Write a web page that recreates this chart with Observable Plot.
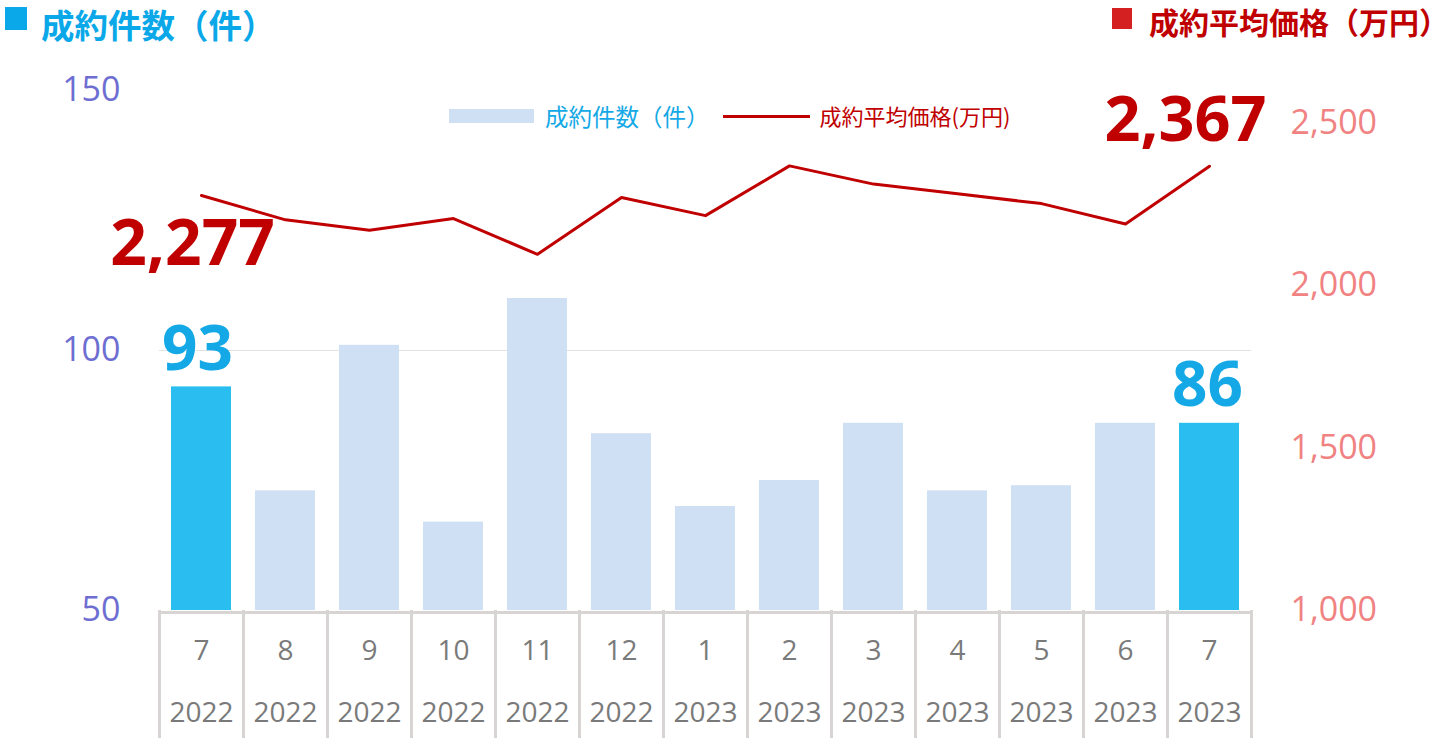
<!DOCTYPE html>
<html>
<head>
<meta charset="utf-8">
<script src="https://cdn.jsdelivr.net/npm/d3@7"></script>
<script src="https://cdn.jsdelivr.net/npm/@observablehq/plot@0.6"></script>
<style>
  html, body { margin: 0; padding: 0; background: #fff; }
  #wrap { position: relative; width: 1440px; height: 738px; overflow: hidden; font-family: "Open Sans", "Noto Sans CJK JP", sans-serif; }
  #header { position: relative; height: 40px; }
  .ttl { position: absolute; top: 0; line-height: 1.45; font-family: "Noto Sans CJK JP", sans-serif; font-weight: 700; white-space: nowrap; }
  .sq { position: absolute; }
  .half { font-feature-settings: "halt" 1; }
  #legend { position: absolute; top: 100px; left: 449px; height: 32px; line-height: 1.45; display: flex; align-items: center; font-family: "Noto Sans CJK JP", sans-serif; font-size: 22px; white-space: nowrap; }
</style>
</head>
<body>
<div id="wrap">
  <div id="header">
    <div class="sq" style="left:5px;top:7px;width:22px;height:23px;background:#0aa8e8;"></div>
    <div class="ttl" style="left:41px;color:#0aa8e8;font-size:33.5px;">成約件数（件）</div>
    <div class="sq" style="left:1112px;top:8px;width:20px;height:21px;background:#d42020;"></div>
    <div class="ttl" style="left:1149px;color:#c00000;font-size:30px;">成約平均価格（万円<span class="half">）</span></div>
  </div>
  <div id="chart"></div>
  <div id="legend">
    <span style="display:inline-block;width:85px;height:14px;background:#cfe0f4;margin-right:11px;"></span>
    <span style="color:#14a9e6;font-size:23.5px;">成約件数（件）</span>
    <span style="display:inline-block;width:87px;height:3px;background:#c00000;margin-left:13px;margin-right:10px;"></span>
    <span style="color:#c00000;font-size:22px;">成約平均価格(万円)</span>
  </div>
</div>
<script>
const months = [7, 8, 9, 10, 11, 12, 1, 2, 3, 4, 5, 6, 7];
const years = [2022, 2022, 2022, 2022, 2022, 2022, 2023, 2023, 2023, 2023, 2023, 2023, 2023];
const counts = [93, 73, 101, 67, 110, 84, 70, 75, 86, 73, 74, 86, 86];
const prices = [2277, 2202, 2170, 2206, 2096, 2271, 2215, 2368, 2312, 2282, 2252, 2189, 2367];
const leftTicks = [50, 100, 150];
const rightTicks = [1000, 1500, 2000, 2500];
const highlighted = [0, 12];

const leftDomain = [50, 150];
const rightDomain = [1000, 2600];
const toLeft = p => leftDomain[0] + (p - rightDomain[0]) / (rightDomain[1] - rightDomain[0]) * (leftDomain[1] - leftDomain[0]);
const fromLeft = v => rightDomain[0] + (v - leftDomain[0]) / (leftDomain[1] - leftDomain[0]) * (rightDomain[1] - rightDomain[0]);

const data = months.map((m, i) => ({
  key: `${years[i]}-${String(m).padStart(2, "0")}-${i}`,
  month: String(m),
  year: String(years[i]),
  count: counts[i],
  price: prices[i],
  pv: toLeft(prices[i]),
  hi: highlighted.includes(i)
}));
const first = [data[0]];
const last = [data[data.length - 1]];
const fmt = d3.format(",");
const gridColor = "#d8d4d4";
const step = 84;

const chart = Plot.plot({
  width: 1440,
  height: 698,
  marginTop: 50,
  marginBottom: 128,
  marginLeft: 159,
  marginRight: 189,
  style: { fontFamily: "'Open Sans', 'Noto Sans CJK JP', sans-serif", background: "#fff", overflow: "visible" },
  x: { type: "band", domain: data.map(d => d.key), paddingInner: 0.2857, paddingOuter: 0.14285, axis: null },
  y: { domain: leftDomain },
  color: { type: "identity" },
  marks: [
    Plot.ruleY([100], { stroke: "#e2e2e2", strokeWidth: 1.2 }),
    Plot.barY(data, { x: "key", y1: leftDomain[0], y2: "count", fill: d => d.hi ? "#29bdf0" : "#cfe0f4" }),
    Plot.ruleY([leftDomain[0]], { stroke: gridColor, strokeWidth: 3, dy: 2 }),
    Plot.ruleX(data, { x: "key", y1: leftDomain[0], y2: 24, dx: -step / 2, stroke: gridColor, strokeWidth: 3 }),
    Plot.ruleX(last, { x: "key", y1: leftDomain[0], y2: 24, dx: step / 2, stroke: gridColor, strokeWidth: 3 }),
    Plot.text(data, { x: "key", text: "month", frameAnchor: "bottom", lineAnchor: "middle", dy: 41, fontSize: 28, fill: "#7a7a7a" }),
    Plot.text(data, { x: "key", text: "year", frameAnchor: "bottom", lineAnchor: "middle", dy: 103, fontSize: 28, fill: "#7a7a7a" }),
    Plot.lineY(data, { x: "key", y: "pv", stroke: "#c00000", strokeWidth: 3 }),
    Plot.text(first, { x: "key", y: "pv", text: d => fmt(d.price), dx: -9, dy: 49, fontSize: 64, fontWeight: 700, fill: "#c00000" }),
    Plot.text(last, { x: "key", y: "pv", text: d => fmt(d.price), dx: -24, dy: -45, fontSize: 63, fontWeight: 700, fill: "#c00000" }),
    Plot.text(first, { x: "key", y: "count", text: d => String(d.count), dx: -4, dy: -37, fontSize: 62, fontWeight: 700, fill: "#14a9e6" }),
    Plot.text(last, { x: "key", y: "count", text: d => String(d.count), dx: -2, dy: -37, fontSize: 62, fontWeight: 700, fill: "#14a9e6" }),
    Plot.axisY(leftTicks, { anchor: "left", tickSize: 0, tickPadding: 39, fontSize: 34, fill: "#6e6ed2", label: null, tickFormat: d => String(d) }),
    Plot.axisY(rightTicks.map(toLeft), { anchor: "right", tickSize: 0, tickPadding: 39, fontSize: 34, fill: "#f08282", label: null, tickFormat: v => fmt(Math.round(fromLeft(v))) })
  ]
});
document.getElementById("chart").appendChild(chart);
</script>
</body>
</html>
